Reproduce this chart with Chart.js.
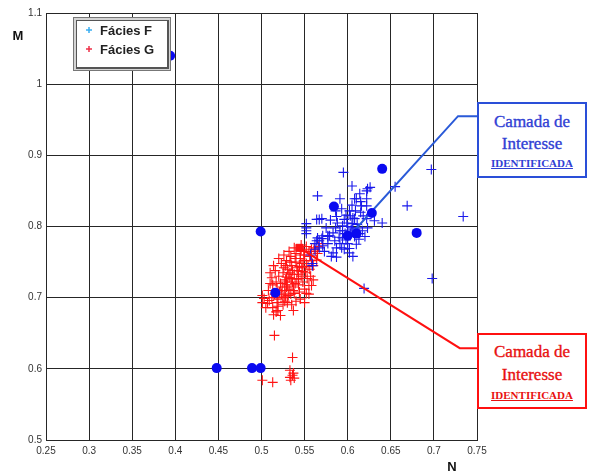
<!DOCTYPE html>
<html>
<head>
<meta charset="utf-8">
<script src="https://cdn.jsdelivr.net/npm/chart.js@4/dist/chart.umd.min.js"></script>
<style>
  html,body{margin:0;padding:0;background:#fff;}
  #wrap{position:relative;width:590px;height:474px;}
  canvas{position:absolute;left:0;top:0;}
  .callout{position:absolute;box-sizing:border-box;width:110px;height:76px;border:2px solid;background:#fff;}
  .callout span{position:absolute;left:0;right:0;text-align:center;font-family:"Liberation Serif","DejaVu Serif",serif;white-space:nowrap;}
  .callout .big{font-size:17px;line-height:20px;-webkit-text-stroke:0.35px currentColor;}
  .callout .small{font-size:11px;line-height:14px;font-weight:bold;text-decoration:underline;}
</style>
</head>
<body>
<div id="wrap">
  <canvas id="c" width="590" height="474"></canvas>
  <div class="callout" id="boxF" style="left:477px;top:102px;border-color:#2a4fd8;color:#3040d4;">
    <span class="big" style="top:8px">Camada de</span>
    <span class="big" style="top:30px">Interesse</span>
    <span class="small" style="top:52px">IDENTIFICADA</span>
  </div>
  <div class="callout" id="boxG" style="left:477px;top:333px;border-color:#ff1010;color:#e81010;">
    <span class="big" style="top:7px">Camada de</span>
    <span class="big" style="top:30px">Interesse</span>
    <span class="small" style="top:53px">IDENTIFICADA</span>
  </div>
</div>
<script>
// ---------- DATA ----------
const xTickValues = [0.25,0.3,0.35,0.4,0.45,0.5,0.55,0.6,0.65,0.7,0.75];
const xTickLabels = ['0.25','0.3','0.35','0.4','0.45','0.5','0.55','0.6','0.65','0.7','0.75'];
const yTickValues = [0.5,0.6,0.7,0.8,0.9,1.0,1.1];
const yTickLabels = ['0.5','0.6','0.7','0.8','0.9','1','1.1'];
const seriesNames = ['Fácies F','Fácies G'];

// Fácies F (blue +)
const faciesF = [
  [0.595,0.876],[0.605,0.857],[0.565,0.843],[0.697,0.880],[0.655,0.856],[0.669,0.829],
  [0.734,0.814],[0.698,0.727],[0.619,0.713],[0.552,0.804],[0.552,0.794],[0.564,0.810],
  [0.567,0.810],[0.579,0.787],[0.570,0.783],[0.581,0.758],[0.606,0.758],[0.602,0.769],
  [0.588,0.805],[0.587,0.814],[0.608,0.839],[0.614,0.846],[0.622,0.850],[0.626,0.855],
  [0.640,0.805],[0.623,0.798],[0.622,0.829],[0.602,0.822],[0.608,0.811],[0.594,0.794],
  [0.559,0.748],[0.565,0.784],[0.623,0.853],[0.591,0.839],[0.610,0.839],[0.622,0.839],
  [0.616,0.829],[0.593,0.825],[0.606,0.812],[0.622,0.811],[0.631,0.808],[0.570,0.811],
  [0.552,0.798],[0.552,0.790],[0.599,0.805],[0.594,0.801],[0.605,0.804],[0.612,0.798],
  [0.617,0.794],[0.591,0.794],[0.583,0.791],[0.571,0.787],[0.577,0.787],[0.567,0.780],
  [0.562,0.776],[0.594,0.784],[0.600,0.776],[0.591,0.776],[0.602,0.763],[0.583,0.763],
  [0.593,0.770],[0.564,0.780],[0.577,0.786],[0.571,0.773],[0.567,0.770],[0.559,0.745],
  [0.603,0.790],[0.608,0.786],[0.613,0.782],[0.598,0.781],[0.604,0.795],[0.611,0.803],
  [0.618,0.815],[0.598,0.816],[0.586,0.798],[0.614,0.790],[0.620,0.786],
  [0.600,0.800],[0.606,0.798],[0.596,0.810],[0.603,0.815],[0.609,0.822],[0.615,0.820],
  [0.597,0.790],[0.590,0.785],[0.585,0.780],[0.577,0.776],[0.573,0.765],[0.587,0.770],
  [0.615,0.835],[0.605,0.830],[0.586,0.822],[0.580,0.809],[0.575,0.798],[0.610,0.775],
  [0.596,0.768],[0.587,0.757],[0.557,0.760],[0.562,0.768]
];
// Fácies G (red +)
const faciesG = [
  [0.520,0.730],[0.525,0.735],[0.530,0.740],[0.535,0.745],[0.540,0.750],[0.545,0.755],
  [0.550,0.760],[0.555,0.765],[0.522,0.720],[0.528,0.725],[0.533,0.728],[0.538,0.733],
  [0.542,0.738],[0.547,0.742],[0.552,0.748],[0.558,0.752],[0.518,0.712],[0.524,0.715],
  [0.530,0.718],[0.536,0.722],[0.541,0.726],[0.546,0.730],[0.551,0.735],[0.556,0.740],
  [0.515,0.705],[0.521,0.708],[0.527,0.710],[0.532,0.712],[0.537,0.715],[0.543,0.718],
  [0.548,0.722],[0.553,0.727],[0.512,0.728],[0.516,0.738],[0.523,0.748],[0.529,0.752],
  [0.534,0.758],[0.540,0.762],[0.546,0.768],[0.519,0.698],[0.525,0.700],[0.531,0.703],
  [0.538,0.706],[0.544,0.708],[0.550,0.712],[0.555,0.717],[0.513,0.718],[0.517,0.722],
  [0.526,0.742],[0.531,0.733],[0.536,0.738],[0.544,0.744],[0.549,0.752],[0.543,0.727],
  [0.539,0.720],[0.529,0.729],[0.534,0.705],[0.527,0.695],[0.501,0.703],[0.503,0.699],
  [0.509,0.696],[0.513,0.686],[0.519,0.688],[0.517,0.680],[0.537,0.682],[0.550,0.693],
  [0.558,0.717],[0.558,0.768],[0.565,0.762],[0.564,0.753],[0.552,0.772],[0.546,0.774],
  [0.560,0.745],[0.501,0.693],[0.507,0.692],[0.519,0.682],[0.530,0.693],[0.535,0.690],
  [0.552,0.706],[0.571,0.776],[0.515,0.647],[0.536,0.616],[0.533,0.598],[0.536,0.591],
  [0.533,0.588],[0.538,0.587],[0.534,0.584],[0.501,0.584],[0.513,0.581],[0.537,0.594],
  [0.510,0.735],[0.514,0.745],[0.520,0.755],[0.526,0.760],[0.532,0.765],[0.538,0.770],
  [0.528,0.745],[0.533,0.750],[0.539,0.755],[0.545,0.760],[0.549,0.765],[0.556,0.758],
  [0.561,0.770],[0.566,0.772],[0.563,0.765],[0.557,0.730],[0.560,0.725],[0.555,0.705],
  [0.545,0.698],[0.540,0.695],[0.525,0.690],[0.512,0.700],[0.508,0.710],[0.510,0.720],
  [0.527,0.722],[0.533,0.735],[0.541,0.742],[0.547,0.748],[0.535,0.727],[0.529,0.715],
  [0.523,0.705],[0.518,0.693],[0.514,0.676],[0.522,0.675],[0.505,0.686],[0.548,0.737],
  [0.554,0.744],[0.543,0.733],[0.537,0.710],[0.528,0.702]
];
// Blue filled markers
const samplesF = [
  [0.394,1.040],[0.448,0.601],[0.489,0.601],[0.499,0.601],[0.499,0.793],[0.516,0.707],
  [0.640,0.881],[0.680,0.791],[0.584,0.828],[0.628,0.819],[0.610,0.790],[0.600,0.787]
];
// Red square marker
const samplesG = [[0.544,0.770]];
// Callout leader lines (data coordinates)
const calloutFX = [0.603,0.728,0.75];
const calloutFY = [0.788,0.955,0.955];
const calloutGX = [0.544,0.730,0.75];
const calloutGY = [0.770,0.629,0.629];

// ---------- CHART ----------
const toXY = arr => arr.map(p => ({x:p[0], y:p[1]}));
const zipXY = (xs,ys) => xs.map((x,i)=>({x:x,y:ys[i]}));
const FONT = "'Liberation Sans Narrow','Liberation Sans',Arial,sans-serif";
const BLUE = 'rgb(25,25,235)';
const RED = 'rgb(255,20,20)';

const overlay = {
  id:'overlay',
  afterDraw(chart){
    const ctx = chart.ctx;
    ctx.save();
    // legend frame
    ctx.fillStyle='#777'; ctx.fillRect(73,17,98,54);
    ctx.fillStyle='#d4d4d4'; ctx.fillRect(74,18,96,52);
    ctx.fillStyle='#555'; ctx.fillRect(76,20,93,49);
    ctx.fillStyle='#fff'; ctx.fillRect(77,21,90,46);
    const items = [{y:30,c:'#3aaef2',t:seriesNames[0]},{y:49,c:'#ee3048',t:seriesNames[1]}];
    items.forEach(it=>{
      ctx.strokeStyle=it.c; ctx.lineWidth=1.5;
      ctx.beginPath(); ctx.moveTo(86,it.y); ctx.lineTo(92,it.y);
      ctx.moveTo(89,it.y-3); ctx.lineTo(89,it.y+3); ctx.stroke();
      ctx.fillStyle='#222'; ctx.font="bold 13px 'Liberation Sans',Arial,sans-serif";
      ctx.textAlign='left'; ctx.textBaseline='middle';
      ctx.fillText(it.t,100,it.y+1);
    });
    // axis titles
    ctx.fillStyle='#111'; ctx.font="bold 13px 'Liberation Sans',Arial,sans-serif";
    ctx.textAlign='center'; ctx.textBaseline='middle';
    ctx.fillText('M',18,36);
    ctx.fillText('N',452,467);
    ctx.restore();
  }
};

new Chart(document.getElementById('c'),{
  type:'scatter',
  data:{datasets:[
    {label:'Amostra G', data:toXY(samplesG), pointStyle:'rect', pointRadius:5, backgroundColor:RED, borderColor:RED, borderWidth:1},
    {label:'Amostras F', data:toXY(samplesF), pointStyle:'circle', pointRadius:5, backgroundColor:'rgb(10,10,240)', borderColor:'rgb(10,10,240)', borderWidth:0},
    {label:'Camada F', type:'line', data:zipXY(calloutFX,calloutFY), borderColor:'#2a5ad8', borderWidth:2, pointRadius:0, fill:false, tension:0, clip:false},
    {label:'Camada G', type:'line', data:zipXY(calloutGX,calloutGY), borderColor:'#ff1010', borderWidth:2, pointRadius:0, fill:false, tension:0, clip:false},
    {label:seriesNames[0], data:toXY(faciesF), pointStyle:'cross', pointRadius:5, borderColor:BLUE, backgroundColor:BLUE, borderWidth:1.1},
    {label:seriesNames[1], data:toXY(faciesG), pointStyle:'cross', pointRadius:5, borderColor:RED, backgroundColor:RED, borderWidth:1.1}
  ]},
  options:{
    responsive:false, animation:false,
    layout:{padding:{left:0,top:13,right:113,bottom:0}},
    plugins:{legend:{display:false}, tooltip:{enabled:false}},
    scales:{
      x:{type:'linear', min:0.25, max:0.75,
        afterBuildTicks:s=>{s.ticks = xTickValues.map(v=>({value:v}));},
        afterFit:s=>{s.height=34;},
        grid:{color:'#262626', lineWidth:1, drawTicks:false},
        border:{color:'#262626', width:1},
        ticks:{padding:5, color:'#333', font:{family:FONT,size:10}, maxRotation:0, autoSkip:false,
          callback:(v,i)=>xTickLabels[i]}
      },
      y:{type:'linear', min:0.5, max:1.1,
        afterBuildTicks:s=>{s.ticks = yTickValues.map(v=>({value:v}));},
        afterFit:s=>{s.width=46;},
        grid:{color:'#262626', lineWidth:1, drawTicks:false},
        border:{color:'#262626', width:1},
        ticks:{padding:4, color:'#333', font:{family:FONT,size:10}, autoSkip:false,
          callback:(v,i)=>yTickLabels[i]}
      }
    }
  },
  plugins:[overlay]
});
</script>
</body>
</html>
